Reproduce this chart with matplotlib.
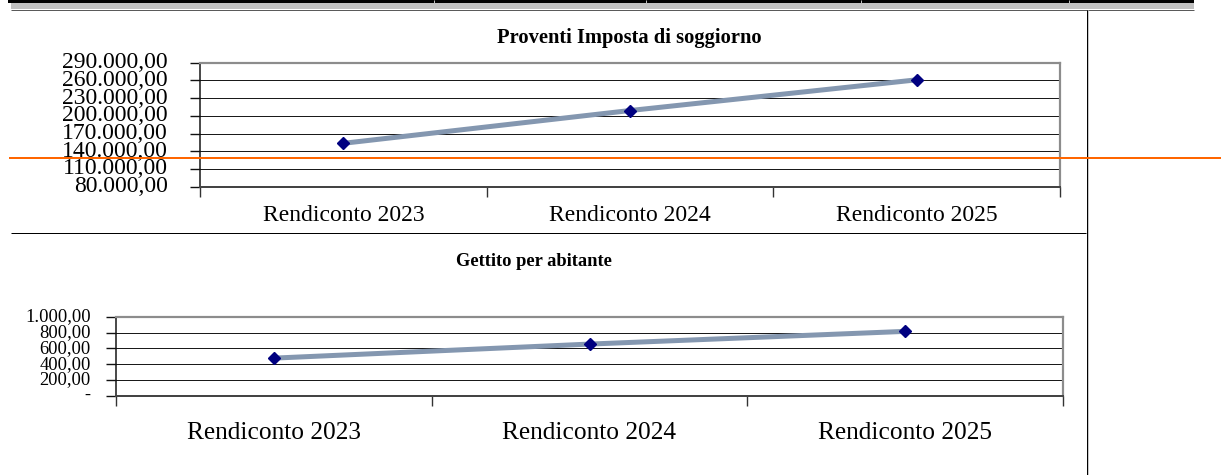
import matplotlib
matplotlib.use("Agg")
import matplotlib.pyplot as plt
from matplotlib.lines import Line2D
from matplotlib.patches import Rectangle
from matplotlib.ticker import FixedLocator, FuncFormatter, NullFormatter

# ---- data ----
categories = ["Rendiconto 2023", "Rendiconto 2024", "Rendiconto 2025"]
proventi = [153500, 209000, 261000]
gettito = [476, 655, 817]
title1 = "Proventi Imposta di soggiorno"
title2 = "Gettito per abitante"
yticks1 = [80000, 110000, 140000, 170000, 200000, 230000, 260000, 290000]
yticks2 = [0, 200, 400, 600, 800, 1000]

W, H = 1221, 475
DPI = 100
fig = plt.figure(figsize=(W / DPI, H / DPI), dpi=DPI)
fig.patch.set_facecolor("white")
SERIF = ["Liberation Serif", "DejaVu Serif"]


def fx(x):
    return x / W


def fy(y):
    return 1 - y / H


def hline(x0, x1, y, color, lw_px, z=5):
    fig.add_artist(Line2D([fx(x0), fx(x1)], [fy(y), fy(y)], color=color,
                          lw=lw_px * 72 / DPI, transform=fig.transFigure,
                          zorder=z, solid_capstyle="butt"))


def vline(x, y0, y1, color, lw_px, z=5):
    fig.add_artist(Line2D([fx(x), fx(x)], [fy(y0), fy(y1)], color=color,
                          lw=lw_px * 72 / DPI, transform=fig.transFigure,
                          zorder=z, solid_capstyle="butt"))


def rect(x0, y0, x1, y1, color, z=4):
    fig.add_artist(Rectangle((fx(x0), fy(y1)), fx(x1) - fx(x0), fy(y0) - fy(y1),
                             facecolor=color, edgecolor="none",
                             transform=fig.transFigure, zorder=z))


def ital(v, pos=None):
    if v == 0:
        return "-"
    s = f"{v:,.2f}"
    return s.replace(",", "X").replace(".", ",").replace("X", ".")


def make_axes(left, right, top, bottom, values, yticks, ylab_size, ylab_pad,
              xlab_size, xlab_pad):
    ax = fig.add_axes([fx(left), fy(bottom), fx(right) - fx(left),
                       fy(top) - fy(bottom)])
    x = list(range(len(categories)))
    ax.plot(x, values, color="#8497B0", lw=5 * 72 / DPI, zorder=3,
            solid_capstyle="butt")
    ax.plot(x, values, ls="none", marker="D", ms=6.3, color="#000080",
            markeredgecolor="#000080", zorder=4)
    ax.set_xlim(-0.5, len(categories) - 0.5)
    ax.set_ylim(yticks[0], yticks[-1])
    ax.yaxis.set_major_locator(FixedLocator(yticks))
    ax.yaxis.set_major_formatter(FuncFormatter(ital))
    ax.grid(axis="y", color="#1a1a1a", lw=1 * 72 / DPI, zorder=1)
    ax.set_axisbelow(True)
    ax.xaxis.set_major_locator(FixedLocator([i - 0.5 for i in range(len(categories) + 1)]))
    ax.xaxis.set_major_formatter(NullFormatter())
    ax.xaxis.set_minor_locator(FixedLocator(x))
    ax.set_xticklabels(categories, minor=True)
    ax.tick_params(axis="x", which="major", direction="out", length=7,
                   width=1, color="#333333")
    ax.tick_params(axis="x", which="minor", length=0, pad=xlab_pad,
                   labelsize=xlab_size)
    ax.tick_params(axis="y", direction="out", length=7, width=1,
                   color="#111111", pad=ylab_pad, labelsize=ylab_size)
    for lab in ax.get_xticklabels(minor=True) + ax.get_yticklabels():
        lab.set_family(SERIF)
    ax.spines["left"].set_color("#111111")
    ax.spines["left"].set_linewidth(1.5 * 72 / DPI)
    ax.spines["bottom"].set_color("#444444")
    ax.spines["bottom"].set_linewidth(2 * 72 / DPI)
    for s in ("top", "right"):
        ax.spines[s].set_color("#8c8c8c")
        ax.spines[s].set_linewidth(2.2 * 72 / DPI)
    for lab in ax.get_yticklabels():
        lab.set_verticalalignment("center")
    return ax


ax1 = make_axes(200, 1060, 62.7, 186.7, proventi, yticks1, 17.0, 16, 17.0, 13)
ax2 = make_axes(115.7, 1063.3, 317, 395.5, gettito, yticks2, 13.3, 11, 18.3, 19)

fig.text(fx(629), fy(38), title1, ha="center", va="center", family=SERIF,
         fontweight="bold", fontsize=14.8)
fig.text(fx(534), fy(262), title2, ha="center", va="center", family=SERIF,
         fontweight="bold", fontsize=13.3)

# ---- page decorations ----
rect(8, 0, 1194, 3, "black")
for xd in (434, 646, 861, 1069):
    vline(xd, 0, 3, "#bfbfbf", 1, z=6)
rect(11, 3, 1194, 9, "#c0c0c0")
hline(11, 1194, 9.5, "#5a5a5a", 1)
hline(11, 1086, 233, "black", 1)
vline(1086.5, 10, 475, "black", 1)
vline(1087.5, 10, 475, "#c8c8c8", 1)
hline(9, 1221, 158.3, "#FF6600", 2, z=10)

fig.savefig("out.png", dpi=DPI)
